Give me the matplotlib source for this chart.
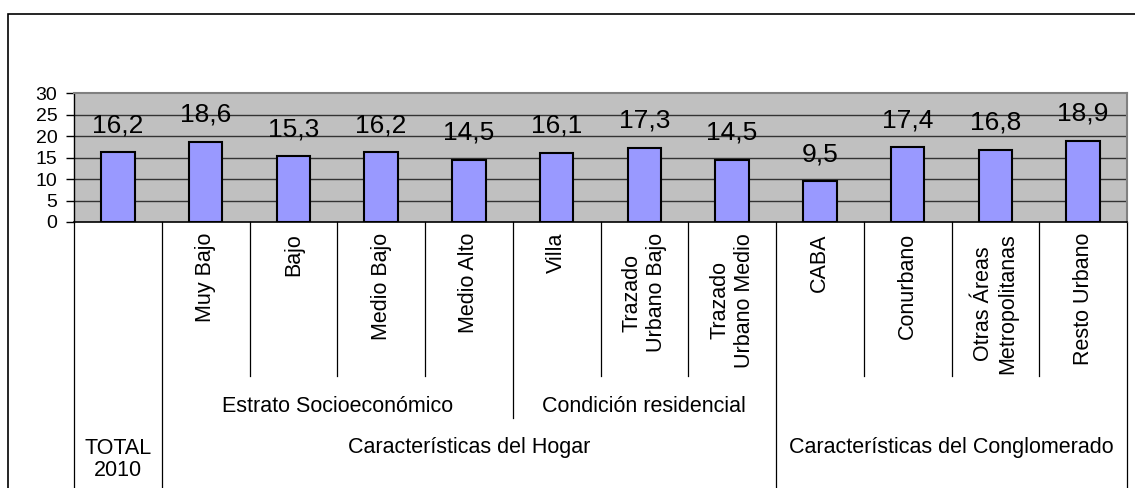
import matplotlib.pyplot as plt
import matplotlib.transforms as mtransforms
from matplotlib.patches import Rectangle

plt.rcParams["font.family"] = ["Liberation Sans", "DejaVu Sans"]

# Data
categorias = ["", "Muy Bajo", "Bajo", "Medio Bajo", "Medio Alto", "Villa",
              "Trazado\nUrbano Bajo", "Trazado\nUrbano Medio", "CABA", "Conurbano",
              "Otras Áreas\nMetropolitanas", "Resto Urbano"]
valores = [16.2, 18.6, 15.3, 16.2, 14.5, 16.1, 17.3, 14.5, 9.5, 17.4, 16.8, 18.9]
etiquetas = ["16,2", "18,6", "15,3", "16,2", "14,5", "16,1", "17,3", "14,5", "9,5", "17,4", "16,8", "18,9"]

# second and third level of the category table: (label, first idx, last idx)
grupos_medio = [("Estrato Socioeconómico", 1, 4), ("Condición residencial", 5, 7)]
grupos_alto = [("Características del Hogar", 1, 7), ("Características del Conglomerado", 8, 11)]

W, H = 1135, 488
fig = plt.figure(figsize=(W / 100, H / 100), dpi=100)

# plot area in pixels
left, right, top, bottom = 74, 1127, 93, 222
ax = fig.add_axes([left / W, 1 - bottom / H, (right - left) / W, (bottom - top) / H])
ax.set_facecolor("#C0C0C0")

x = list(range(len(valores)))
ax.bar(x, valores, width=0.38, color="#9999FF", edgecolor="black", linewidth=1.5, zorder=3)

for xi, v, lab in zip(x, valores, etiquetas):
    ax.annotate(lab, (xi, v), xytext=(0, 14.5), textcoords="offset points",
                ha="center", va="baseline", fontsize=19, zorder=4)

ax.set_xlim(-0.5, len(valores) - 0.5)
ax.set_ylim(0, 30)
ax.set_yticks(range(0, 31, 5))
ax.set_xticks([])
ax.tick_params(axis="y", direction="out", length=6, width=1, pad=6, labelsize=14)
for y in range(5, 30, 5):
    ax.axhline(y, color="#333333", linewidth=1, zorder=1)

ax.spines["top"].set_color("#808080")
ax.spines["right"].set_color("#808080")
ax.spines["top"].set_linewidth(1.5)
ax.spines["right"].set_linewidth(1.5)
ax.spines["left"].set_linewidth(1)
ax.spines["bottom"].set_linewidth(1.2)

# category table under the axis: x in data units, y in figure fraction
trans = mtransforms.blended_transform_factory(ax.transData, fig.transFigure)

def fy(py):
    return 1 - py / H

nivel1, nivel2, fondo = 376, 418, 488
cortes_largos = [-0.5, 0.5, 7.5, 11.5]
cortes_medios = [4.5]
for i in range(len(valores) + 1):
    xb = i - 0.5
    if xb in cortes_largos:
        y_end = fondo
    elif xb in cortes_medios:
        y_end = nivel2
    else:
        y_end = nivel1
    ax.plot([xb, xb], [fy(bottom), fy(y_end)], color="black", linewidth=0.9,
            transform=trans, clip_on=False)

fs = 15.5
for xi, cat in zip(x, categorias):
    ax.text(xi, fy(233), cat, rotation=90, ha="center", va="top",
            multialignment="center", fontsize=fs, transform=trans)

for nombre, a, b in grupos_medio:
    ax.text((a + b) / 2, fy(406), nombre, ha="center", va="center", fontsize=fs, transform=trans)
for nombre, a, b in grupos_alto:
    ax.text((a + b) / 2, fy(448), nombre, ha="center", va="center", fontsize=fs, transform=trans)
ax.text(0, fy(448), "TOTAL", ha="center", va="center", fontsize=fs, transform=trans)
ax.text(0, fy(471), "2010", ha="center", va="center", fontsize=fs, transform=trans)

# outer chart border
fig.patches.append(Rectangle((8 / W, -0.1), 1.2, 1 - 14 / H + 0.1, transform=fig.transFigure,
                             fill=False, edgecolor="black", linewidth=1.2))

fig.savefig("out.png", dpi=100)
